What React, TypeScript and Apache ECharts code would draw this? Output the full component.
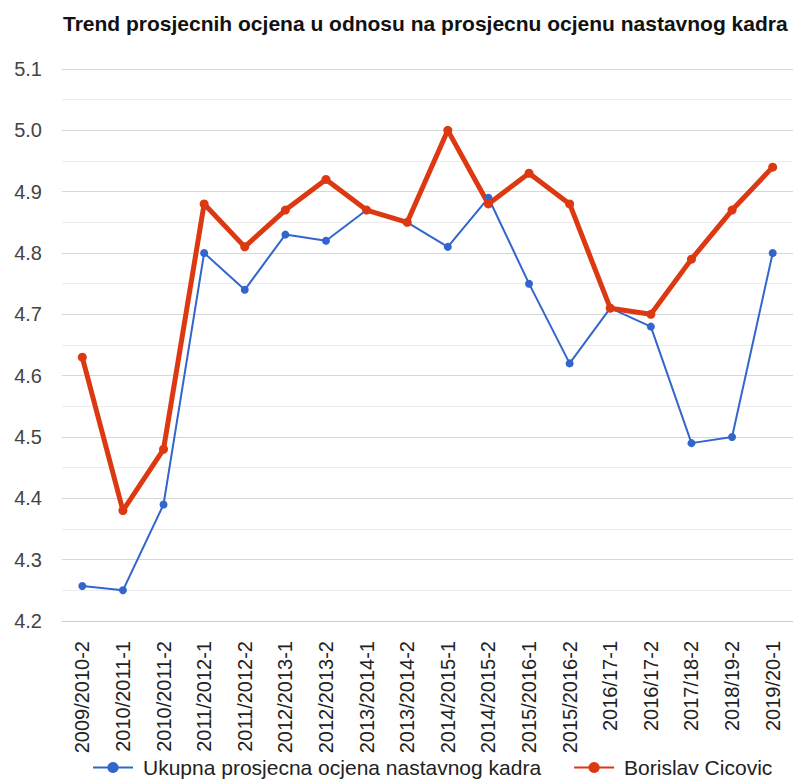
import React, { useEffect, useRef } from "react";
import * as echarts from "echarts";

const categories = [
  "2009/2010-2", "2010/2011-1", "2010/2011-2", "2011/2012-1", "2011/2012-2",
  "2012/2013-1", "2012/2013-2", "2013/2014-1", "2013/2014-2", "2014/2015-1",
  "2014/2015-2", "2015/2016-1", "2015/2016-2", "2016/17-1", "2016/17-2",
  "2017/18-2", "2018/19-2", "2019/20-1",
];
const ukupna = [4.257, 4.25, 4.39, 4.8, 4.74, 4.83, 4.82, 4.87, 4.85, 4.81, 4.89, 4.75, 4.62, 4.71, 4.68, 4.49, 4.5, 4.8];
const borislav = [4.63, 4.38, 4.48, 4.88, 4.81, 4.87, 4.92, 4.87, 4.85, 5.0, 4.88, 4.93, 4.88, 4.71, 4.7, 4.79, 4.87, 4.94];
const seriesNames = ["Ukupna prosjecna ocjena nastavnog kadra", "Borislav Cicovic"];
const titleText = "Trend prosjecnih ocjena u odnosu na prosjecnu ocjenu nastavnog kadra";

const FONT = "'Liberation Sans', Arial, sans-serif";

export default function App() {
  const ref = useRef<HTMLDivElement>(null);
  useEffect(() => {
    if (!ref.current) return;
    const chart = echarts.init(ref.current, null, { renderer: "svg" });
    chart.setOption({
      animation: false,
      backgroundColor: "#fff",
      textStyle: { fontFamily: FONT },
      title: {
        text: titleText,
        left: 63,
        top: 13,
        padding: 0,
        textStyle: { fontSize: 21, fontWeight: "bold", color: "#111", fontFamily: FONT },
      },
      legend: {
        left: 92,
        top: 757,
        padding: 0,
        itemWidth: 40,
        itemHeight: 14,
        itemGap: 32,
        textStyle: { fontSize: 21, color: "#222", padding: [0, 0, 0, 5], fontFamily: FONT },
        data: seriesNames,
      },
      grid: { left: 62, right: -3, top: 69, bottom: 159, containLabel: false },
      xAxis: {
        type: "category",
        data: categories,
        boundaryGap: true,
        axisTick: { show: false },
        axisLine: { lineStyle: { color: "#cccccc" } },
        axisLabel: { rotate: 90, fontSize: 20, color: "#222", margin: 20, interval: 0, fontFamily: FONT },
      },
      yAxis: {
        type: "value",
        min: 4.2,
        max: 5.1,
        interval: 0.1,
        axisLine: { show: false },
        axisTick: { show: false },
        axisLabel: {
          fontSize: 20,
          color: "#444",
          margin: 20,
          fontFamily: FONT,
          formatter: (v: number) => v.toFixed(1),
        },
        splitLine: { lineStyle: { color: "#d6d6d6", width: 1 } },
        minorTick: { show: false, splitNumber: 2 },
        minorSplitLine: { show: true, lineStyle: { color: "#ececec", width: 1 } },
      },
      series: [
        {
          name: seriesNames[0],
          type: "line",
          data: ukupna,
          symbol: "circle",
          symbolSize: 8,
          itemStyle: { color: "#3366cc" },
          lineStyle: { color: "#3366cc", width: 2 },
        },
        {
          name: seriesNames[1],
          type: "line",
          data: borislav,
          symbol: "circle",
          symbolSize: 9,
          itemStyle: { color: "#dc3912" },
          lineStyle: { color: "#dc3912", width: 5 },
        },
      ],
    });
    return () => chart.dispose();
  }, []);
  return (
    <div
      ref={ref}
      style={{ position: "absolute", left: 0, top: 0, width: 793, height: 780 }}
    />
  );
}
